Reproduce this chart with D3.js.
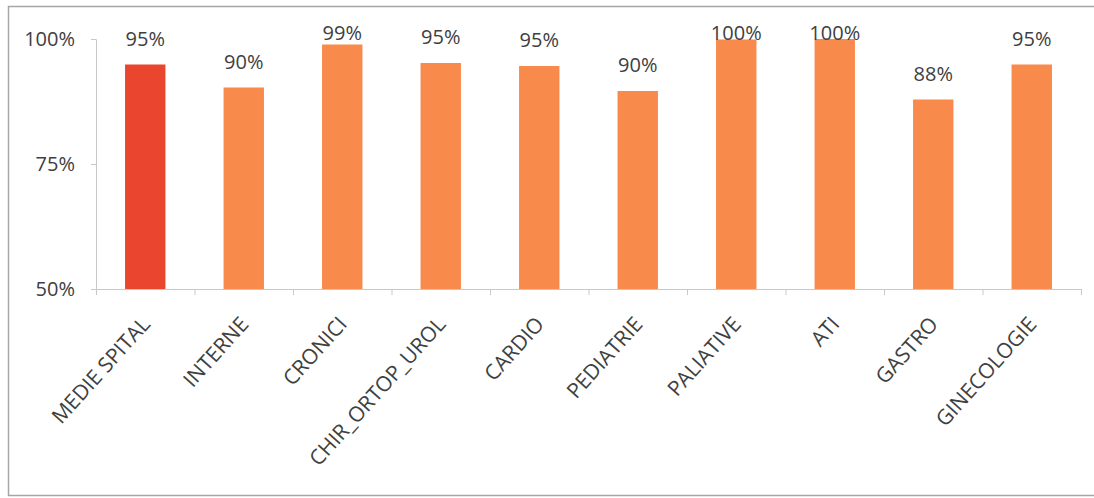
<!DOCTYPE html>
<html>
<head>
<meta charset="utf-8">
<script src="https://cdn.jsdelivr.net/npm/d3@7"></script>
<style>
  html, body { margin: 0; padding: 0; background: #fff; }
  svg { display: block; }
  text { font-family: "Open Sans", sans-serif; fill: #404040; }
</style>
</head>
<body>
<svg id="chart" width="1094" height="498"></svg>
<script>
const categories = ["MEDIE SPITAL", "INTERNE", "CRONICI", "CHIR_ORTOP_UROL", "CARDIO",
                    "PEDIATRIE", "PALIATIVE", "ATI", "GASTRO", "GINECOLOGIE"];
const values = [94.9, 90.3, 98.9, 95.2, 94.6, 89.6, 99.9, 100, 87.9, 94.9];
const yTicks = [50, 75, 100];

const svg = d3.select("#chart");
const W = 1094, H = 498;
const mLeft = 96, mRight = 1081, mTop = 39, mBottom = 289;

// frame
svg.append("rect").attr("x", 0).attr("y", 0).attr("width", W).attr("height", H).attr("fill", "#fff");
svg.append("path")
  .attr("d", `M1100,6.5 H8.5 V495.5 H1100`)
  .attr("fill", "none").attr("stroke", "#a6a6a6").attr("stroke-width", 1.5);

const x = d3.scaleBand().domain(categories).range([mLeft, mRight]).paddingInner(0.59).paddingOuter(0.295);
const xb = d3.scaleBand().domain(categories).range([mLeft, mRight]);
const y = d3.scaleLinear().domain([50, 100]).range([mBottom, mTop]);

// y axis
const yAxis = svg.append("g").attr("transform", `translate(${mLeft},0)`)
  .call(d3.axisLeft(y).tickValues(yTicks).tickSize(5).tickPadding(16).tickFormat(d => d + "%"));
yAxis.select(".domain").attr("stroke", "#c8c8c8");
yAxis.selectAll(".tick line").attr("stroke", "#c8c8c8");
yAxis.selectAll(".tick text").attr("font-size", 20).attr("font-family", "Open Sans").attr("fill", "#404040");

// bars
svg.append("g").selectAll("rect").data(categories).join("rect")
  .attr("x", d => x(d))
  .attr("width", x.bandwidth())
  .attr("y", (d, i) => y(values[i]))
  .attr("height", (d, i) => y(50) - y(values[i]))
  .attr("fill", (d, i) => i === 0 ? "#e9452f" : "#f88a4b");

// x axis line + boundary ticks
const xg = svg.append("g");
xg.append("line").attr("x1", mLeft).attr("x2", mRight).attr("y1", mBottom + 0.5).attr("y2", mBottom + 0.5)
  .attr("stroke", "#c8c8c8");
const bounds = categories.map(c => xb(c)).concat([mRight]);
xg.selectAll("line.tk").data(bounds).join("line").attr("class", "tk")
  .attr("x1", d => d + 0.5).attr("x2", d => d + 0.5)
  .attr("y1", mBottom).attr("y2", mBottom + 6).attr("stroke", "#c8c8c8");

// x labels
xg.selectAll("text").data(categories).join("text")
  .attr("transform", d => `translate(${xb(d) + xb.bandwidth() / 2 + 6},${mBottom + 36}) rotate(-48)`)
  .attr("text-anchor", "end")
  .attr("font-size", 21)
  .text(d => d);

// data labels
svg.append("g").selectAll("text").data(categories).join("text")
  .attr("x", d => x(d) + x.bandwidth() / 2)
  .attr("y", (d, i) => Math.max(y(values[i]) - 19, y(100) + 1))
  .attr("text-anchor", "middle")
  .attr("font-size", 20)
  .text((d, i) => Math.round(values[i]) + "%");
</script>
</body>
</html>
